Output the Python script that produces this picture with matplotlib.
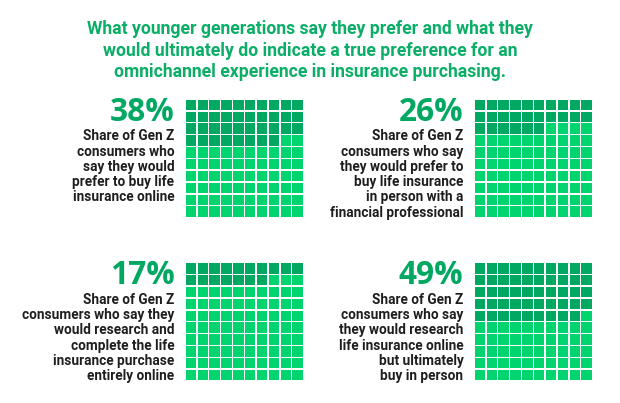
import matplotlib.pyplot as plt
from matplotlib.patches import Rectangle

# Chart data
percents = [38, 26, 17, 49]
captions = [
    ["Share of Gen Z", "consumers who", "say they would", "prefer to buy life", "insurance online"],
    ["Share of Gen Z", "consumers who say", "they would prefer to", "buy life insurance",
     "in person with a", "financial professional"],
    ["Share of Gen Z", "consumers who say they", "would research and", "complete the life",
     "insurance purchase", "entirely online"],
    ["Share of Gen Z", "consumers who say", "they would research", "life insurance online",
     "but ultimately", "buy in person"],
]
title_lines = [
    "What younger generations say they prefer and what they",
    "would ultimately do indicate a true preference for an",
    "omnichannel experience in insurance purchasing.",
]

dark_green = '#00a862'
light_green = '#00d46f'
title_green = '#0aae66'
text_color = '#1e1e1e'

W, H = 620, 403
fig = plt.figure(figsize=(W / 100, H / 100), dpi=100)
plt.rcParams['font.family'] = ['Roboto', 'DejaVu Sans']

# title
for i, line in enumerate(title_lines):
    fig.text(310 / W, 1 - (29 + i * 21.5) / H, line, ha='center', va='center',
             fontsize=12.7, fontweight='bold', color=title_green)

# waffle panel positions (pixels: grid left, grid top)
grid_pos = [(185, 99), (474, 99), (185, 262.5), (474, 262.5)]
grid_size = 118.5

for pct, lines, (gx, gy) in zip(percents, captions, grid_pos):
    ax = fig.add_axes([gx / W, 1 - (gy + grid_size) / H, grid_size / W, grid_size / H])
    for k in range(100):
        row, col = divmod(k, 10)
        color = dark_green if k < pct else light_green
        ax.add_patch(Rectangle((col + 0.06, 9 - row + 0.06), 0.88, 0.88,
                               facecolor=color, edgecolor='none'))
    ax.set_xlim(0, 10)
    ax.set_ylim(0, 10)
    ax.axis('off')

    tx = (gx - 10.5) / W
    num_y = gy + 13.5
    fig.text(tx, 1 - num_y / H, f"{pct}%", ha='right', va='center',
             fontsize=22.8, fontweight='bold', color=dark_green, family='Open Sans')
    for j, line in enumerate(lines):
        fig.text(tx, 1 - (num_y + 24 + j * 15.2) / H, line, ha='right', va='center',
                 fontsize=9.8, fontweight='bold', color=text_color)

fig.savefig('out.png', dpi=100)
